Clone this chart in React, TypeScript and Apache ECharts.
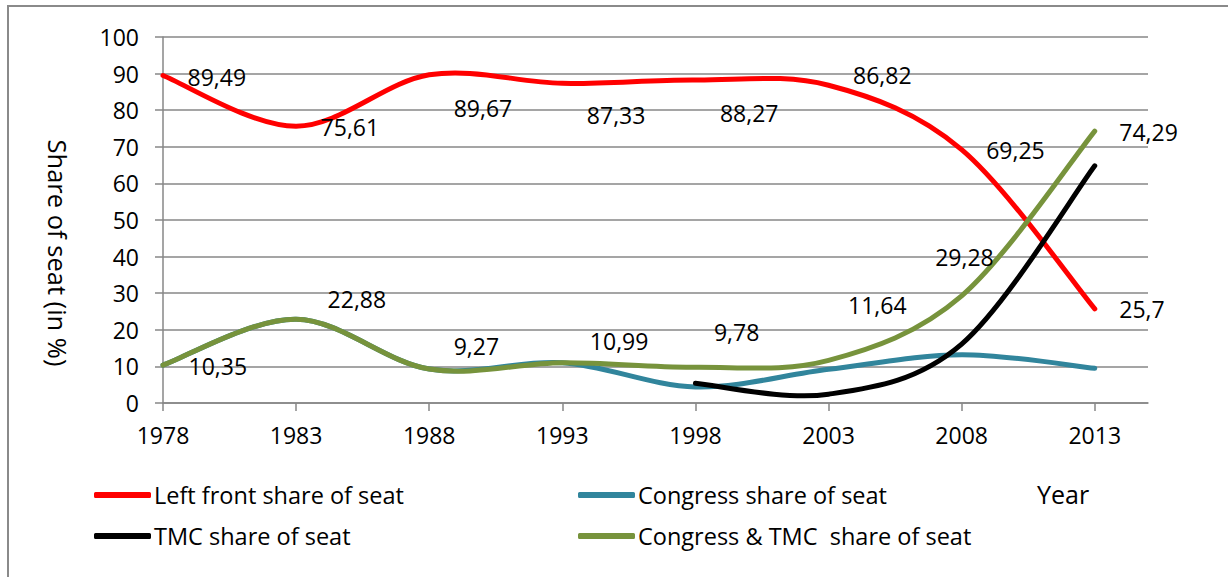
import React, { useEffect, useRef } from "react";
import * as echarts from "echarts";

const years = [1978, 1983, 1988, 1993, 1998, 2003, 2008, 2013];
const leftFront = [89.49, 75.61, 89.67, 87.33, 88.27, 86.82, 69.25, 25.7];
const congress = [10.35, 22.88, 9.27, 10.99, 4.4, 9.2, 13.2, 9.5];
const tmc = [null, null, null, null, 5.4, 2.4, 16.1, 64.8];
const congressTmc = [10.35, 22.88, 9.27, 10.99, 9.78, 11.64, 29.28, 74.29];
const yTicks = [0, 10, 20, 30, 40, 50, 60, 70, 80, 90, 100];

const seriesNames = [
  "Left front share of seat",
  "Congress share of seat",
  "TMC share of seat",
  "Congress & TMC  share of seat",
];
const seriesValues = [leftFront, congress, tmc, congressTmc];
const colors = ["#ff0000", "#31859c", "#000000", "#77933c"];

// label nudges (dx, dy) in px, relative to the default right-side placement
const redLabelShift = [[0, 2], [0, 1], [0, 33], [0, 32], [0, 33], [0, -10], [0, 0], [0, 0]];
const greenLabelShift = [[1, 1], [7, -20], [0, -23], [3, -22], [-6, -35], [-5, -55], [-51, -39], [0, 1]];

const FONT = "Open Sans";

function pts(vals: (number | null)[], shifts?: number[][]) {
  return years.map((y, i) => {
    const item: any = { value: [y, vals[i] == null ? "-" : vals[i]] };
    if (shifts) item.label = { offset: shifts[i] };
    return item;
  });
}

// Excel-like smoothed curve (Catmull-Rom as cubic Bezier) through the axis coordinates
function smoothPath(p: number[][]) {
  if (p.length === 0) return "";
  let d = `M${p[0][0]},${p[0][1]}`;
  for (let i = 0; i < p.length - 1; i++) {
    const a = p[i - 1] || p[i];
    const b = p[i];
    const c = p[i + 1];
    const e = p[i + 2] || p[i + 1];
    const c1x = b[0] + (c[0] - a[0]) / 6;
    const c1y = b[1] + (c[1] - a[1]) / 6;
    const c2x = c[0] - (e[0] - b[0]) / 6;
    const c2y = c[1] - (e[1] - b[1]) / 6;
    d += ` C${c1x},${c1y} ${c2x},${c2y} ${c[0]},${c[1]}`;
  }
  return d;
}

function curveSeries(i: number) {
  const vals = seriesValues[i];
  const first = vals.findIndex((v) => v != null);
  return {
    type: "custom",
    name: seriesNames[i],
    color: colors[i],
    itemStyle: { color: colors[i] },
    data: pts(vals),
    silent: true,
    z: 2,
    renderItem: (params: any, api: any) => {
      if (params.dataIndex !== first) return null;
      const p: number[][] = [];
      years.forEach((y, k) => {
        if (vals[k] != null) p.push(api.coord([y, vals[k]]));
      });
      return {
        type: "path",
        shape: { pathData: smoothPath(p) },
        style: {
          fill: "none",
          stroke: colors[i],
          lineWidth: 5,
          lineCap: "round",
          lineJoin: "round",
        },
      };
    },
  };
}

export default function App() {
  const ref = useRef<HTMLDivElement>(null);
  useEffect(() => {
    if (!ref.current) return;
    const chart = echarts.init(ref.current, null, { renderer: "svg" });
    const gridColor = "#878787";
    const labelCfg = {
      show: true,
      position: "right",
      distance: 24,
      fontSize: 23,
      fontFamily: FONT,
      color: "#000",
      formatter: (p: any) => String(p.value[1]).replace(".", ","),
    };
    const labelSeries = (name: string, vals: number[], shifts: number[][]) => ({
      type: "line",
      name,
      data: pts(vals, shifts),
      symbol: "circle",
      symbolSize: 1,
      showSymbol: true,
      itemStyle: { color: "rgba(0,0,0,0)" },
      lineStyle: { width: 0, opacity: 0 },
      label: labelCfg,
      silent: true,
      z: 5,
    });
    const legendBase = {
      itemWidth: 57,
      itemHeight: 6,
      icon: "roundRect",
      itemGap: 0,
      padding: 0,
      textStyle: { fontSize: 23.5, fontFamily: FONT, color: "#000", padding: [0, 0, 0, -2] },
      selectedMode: false,
    };
    chart.setOption({
      animation: false,
      backgroundColor: "#fff",
      grid: { left: 163, right: 80, top: 37, bottom: 174 },
      xAxis: {
        type: "value",
        min: 1978,
        max: 2015,
        interval: 5,
        axisLine: { show: true, lineStyle: { color: gridColor, width: 1.5 } },
        axisTick: { show: true, length: 8, customValues: years, lineStyle: { color: gridColor, width: 1.5 } },
        axisLabel: {
          customValues: years,
          margin: 20,
          fontSize: 23,
          fontFamily: FONT,
          color: "#000",
          formatter: (v: number) => String(v),
        },
        splitLine: { show: false },
      },
      yAxis: {
        type: "value",
        min: 0,
        max: 100,
        interval: 10,
        axisLine: { show: true, lineStyle: { color: gridColor, width: 1.5 } },
        axisTick: { show: true, length: 8, customValues: yTicks, lineStyle: { color: gridColor, width: 1.5 } },
        axisLabel: { margin: 24, fontSize: 23, fontFamily: FONT, color: "#000" },
        splitLine: { show: true, lineStyle: { color: gridColor, width: 1.5 } },
      },
      legend: [
        { ...legendBase, left: 94, top: 483, data: [seriesNames[0]] },
        { ...legendBase, left: 578, top: 483, data: [seriesNames[1]] },
        { ...legendBase, left: 94, top: 524, data: [seriesNames[2]] },
        { ...legendBase, left: 578, top: 524, data: [seriesNames[3]] },
      ],
      graphic: [
        {
          type: "rect",
          shape: { x: 8, y: 6, width: 1240, height: 600 },
          style: { fill: "none", stroke: "#8a8a8a", lineWidth: 2 },
          silent: true,
        },
        {
          type: "text",
          x: 58,
          y: 253,
          rotation: -Math.PI / 2,
          style: {
            text: "Share of seat (in %)",
            fontSize: 25.5,
            fontFamily: FONT,
            fill: "#000",
            align: "center",
            verticalAlign: "middle",
          },
        },
        {
          type: "text",
          x: 1037,
          y: 494,
          style: {
            text: "Year",
            fontSize: 25,
            fontFamily: FONT,
            fill: "#000",
            align: "left",
            verticalAlign: "middle",
          },
        },
      ],
      series: [
        curveSeries(0),
        curveSeries(1),
        curveSeries(2),
        curveSeries(3),
        labelSeries("labels-left", leftFront, redLabelShift),
        labelSeries("labels-both", congressTmc, greenLabelShift),
      ],
    });
    return () => chart.dispose();
  }, []);
  return (
    <div
      ref={ref}
      style={{ position: "fixed", left: 0, top: 0, width: 1228, height: 577, background: "#fff" }}
    />
  );
}
